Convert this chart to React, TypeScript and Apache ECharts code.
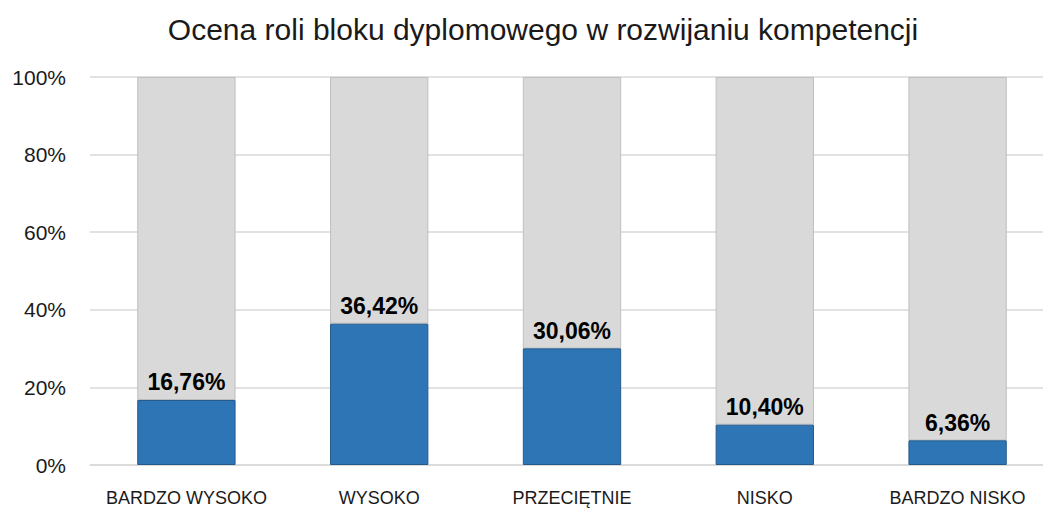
import React, { useEffect, useRef } from "react";
import * as echarts from "echarts";

const categories = ["BARDZO WYSOKO", "WYSOKO", "PRZECIĘTNIE", "NISKO", "BARDZO NISKO"];
const values = [16.76, 36.42, 30.06, 10.4, 6.36];
const remainder = [83.24, 63.58, 69.94, 89.6, 93.64];
const yTicks = [0, 20, 40, 60, 80, 100];
const titleText = "Ocena roli bloku dyplomowego w rozwijaniu kompetencji";

export default function App() {
  const ref = useRef<HTMLDivElement>(null);
  useEffect(() => {
    if (!ref.current) return;
    const chart = echarts.init(ref.current, undefined, { renderer: "svg" });
    const font = "'Liberation Sans', Arial, sans-serif";
    chart.setOption({
      animation: false,
      backgroundColor: "#ffffff",
      textStyle: { fontFamily: font },
      title: {
        text: titleText,
        left: 538,
        textAlign: "center",
        top: 9,
        textStyle: { fontFamily: font, fontSize: 30, fontWeight: "normal", color: "#1a1a1a" },
      },
      grid: { left: 90, top: 77, width: 964, height: 388, containLabel: false },
      xAxis: {
        type: "category",
        data: categories,
        axisLine: { lineStyle: { color: "#d9d9d9", width: 1.5 } },
        axisTick: { show: false },
        axisLabel: { color: "#1a1a1a", fontSize: 18, margin: 24, fontFamily: font, interval: 0 },
      },
      yAxis: {
        type: "value",
        min: yTicks[0],
        max: yTicks[yTicks.length - 1],
        interval: 20,
        axisLine: { show: false },
        axisTick: { show: false },
        splitLine: { lineStyle: { color: "#d9d9d9", width: 1.5 } },
        axisLabel: { color: "#1a1a1a", fontSize: 21, margin: 24, fontFamily: font, formatter: (v: number) => v + "%" },
      },
      series: [
        {
          type: "bar",
          stack: "a",
          data: values,
          barWidth: "51%",
          itemStyle: { color: "#2e75b6", borderColor: "#25598a", borderWidth: 1 },
          label: {
            show: true,
            position: "top",
            distance: 6,
            fontSize: 23,
            fontWeight: "bold",
            color: "#000000",
            fontFamily: font,
            formatter: (p: any) => p.value.toFixed(2).replace(".", ",") + "%",
          },
          z: 3,
        },
        {
          type: "bar",
          stack: "a",
          data: remainder,
          barWidth: "51%",
          itemStyle: { color: "#d9d9d9", borderColor: "#bfbfbf", borderWidth: 1 },
          z: 2,
        },
      ],
    });
    return () => chart.dispose();
  }, []);
  return (
    <div style={{ position: "absolute", left: 0, top: 0, width: 1043, height: 510, overflow: "hidden" }}>
      <div ref={ref} style={{ width: 1080, height: 510 }} />
    </div>
  );
}
